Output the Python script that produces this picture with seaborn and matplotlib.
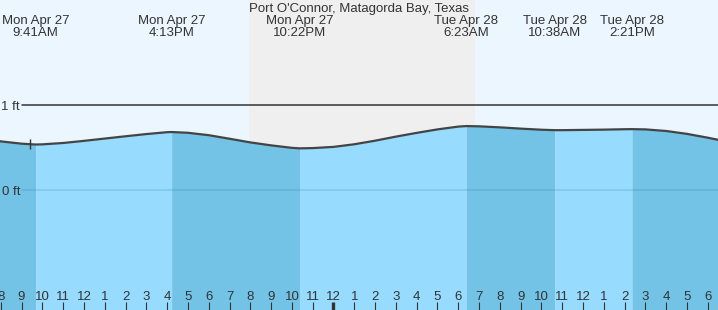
import numpy as np
import matplotlib
matplotlib.use("Agg")
import matplotlib.pyplot as plt
import matplotlib.transforms as mtransforms
import seaborn as sns

# ---- data (hours since Mon Apr 27 00:00, height in ft) ----
hours = [7.9, 8, 9, 9.683, 10, 11, 12, 13, 14, 15, 16, 16.217, 17, 18, 19, 20,
         21, 22, 22.367, 23, 24, 25, 26, 27, 28, 29, 30, 30.383, 31, 32, 33,
         34, 34.633, 35, 36, 37, 38, 38.35, 39, 40, 41, 42, 42.6]
heights = [0.578, 0.572, 0.545, 0.535, 0.537, 0.553, 0.578, 0.605, 0.632, 0.658,
           0.680, 0.682, 0.673, 0.645, 0.603, 0.560, 0.525, 0.496, 0.490, 0.493,
           0.507, 0.538, 0.580, 0.628, 0.672, 0.713, 0.746, 0.752, 0.749, 0.737,
           0.722, 0.709, 0.704, 0.704, 0.707, 0.710, 0.715, 0.716, 0.713, 0.694,
           0.660, 0.615, 0.585]

event_hours = [9.683, 16.217, 22.367, 30.383, 34.633, 38.35]
event_dates = ["Mon Apr 27", "Mon Apr 27", "Mon Apr 27", "Tue Apr 28", "Tue Apr 28", "Tue Apr 28"]
event_times = ["9:41AM", "4:13PM", "10:22PM", "6:23AM", "10:38AM", "2:21PM"]

sunset = 19.94
sunrise = 30.79
now_hour = 9.42

tick_hours = list(range(8, 43))
tick_labels = [str((h - 1) % 12 + 1) for h in tick_hours]

title = "Port O'Connor, Matagorda Bay, Texas"
level_values = [1, 0]
level_labels = ["1 ft", "0 ft"]

# ---- style ----
sns.set_style("white")
plt.rcParams['font.family'] = ['Liberation Sans', 'DejaVu Sans']

W, H = 718, 310
sky = '#ecf6fe'
night = '#efefef'
water_light = '#97dcff'
water_dark = '#73c3e7'
txt = '#333333'
fs = 9.5

fig = plt.figure(figsize=(W / 100, H / 100), dpi=100)
ax = fig.add_axes([0, 0, 1, 1])
ax.set_facecolor(sky)
ax.set_axisbelow(False)
for s in ax.spines.values():
    s.set_visible(False)

xmin, xmax = 7.966, 42.486
ymin, ymax = -120 / 85, 190 / 85
ax.set_xlim(xmin, xmax)
ax.set_ylim(ymin, ymax)

ax.axvspan(sunset, sunrise, color=night, zorder=0, lw=0)

hrs = np.array(hours)
hts = np.array(heights)
bounds = [hrs[0]] + event_hours + [hrs[-1]]
for i in range(len(bounds) - 1):
    a, b = bounds[i], bounds[i + 1]
    m = (hrs >= a - 1e-9) & (hrs <= b + 1e-9)
    col = water_dark if i % 2 == 0 else water_light
    ax.fill_between(hrs[m], hts[m], ymin - 1, color=col, lw=0, zorder=1)

# level lines
ax.axhline(1, xmin=22 / W, xmax=1, color='#333333', lw=1.1, zorder=3)
ax.axhline(0, xmin=22 / W, xmax=1, color='#2a7fb0', alpha=0.25, lw=1.1, zorder=2)

sns.lineplot(x=hours, y=heights, ax=ax, color='#444444', linewidth=1.6, zorder=4)

now_y = np.interp(now_hour, hrs, hts)
ax.plot([now_hour], [now_y], marker='|', markersize=6.5, mew=1.0, color=txt, zorder=5)

# text
yax = lambda px: 1 - px / H
ax.text(0.5, yax(12), title, transform=ax.transAxes, ha='center', va='baseline',
        fontsize=fs, color=txt)
bt = mtransforms.blended_transform_factory(ax.transData, ax.transAxes)
for h, d, t in zip(event_hours, event_dates, event_times):
    ax.text(h, yax(24.3), d, transform=bt, ha='center', va='baseline', fontsize=fs, color=txt)
    ax.text(h, yax(36.5), t, transform=bt, ha='center', va='baseline', fontsize=fs, color=txt)
for v, lab in zip(level_values, level_labels):
    ypx = 190 - v * 85
    ax.text(20 / W, yax(ypx + 4.7), lab, transform=ax.transAxes, ha='right', va='baseline',
            fontsize=fs, color=txt)

# ticks
ax.set_yticks([])
ax.set_xticks(tick_hours)
ax.set_xticklabels(tick_labels)
ax.tick_params(axis='x', direction='in', length=5.8, width=0.8, pad=-14.0,
               labelsize=fs, colors=txt, bottom=True, labelbottom=True)
for th, tk in zip(tick_hours, ax.xaxis.get_major_ticks()):
    tk.set_zorder(6)
    if th == 24:
        tk.tick1line.set_markeredgewidth(2.4)

fig.savefig("out.png", dpi=100, facecolor=sky)
